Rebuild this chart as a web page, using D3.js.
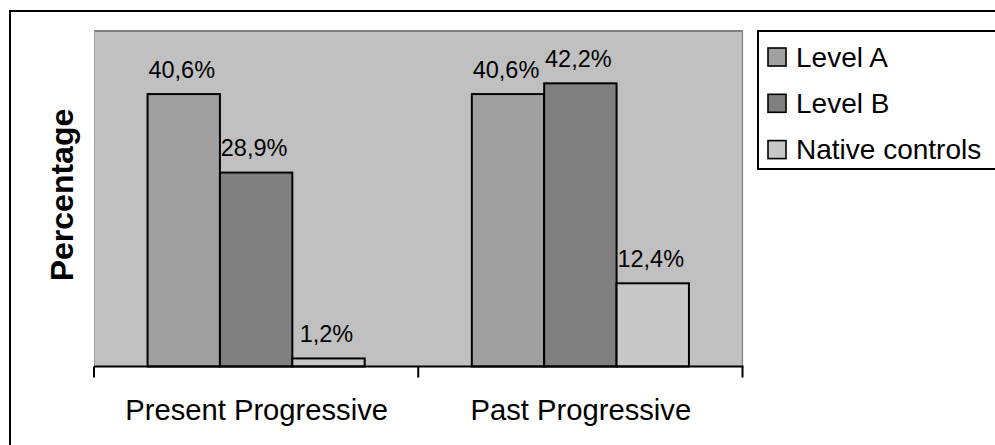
<!DOCTYPE html>
<html>
<head>
<meta charset="utf-8">
<script src="https://cdn.jsdelivr.net/npm/d3@7"></script>
<style>
  html, body { margin: 0; padding: 0; background: #fff; }
  svg { display: block; font-family: "Liberation Sans", Arial, sans-serif; }
</style>
</head>
<body>
<svg id="chart" width="995" height="445"></svg>
<script>
const categories = ["Present Progressive", "Past Progressive"];
const seriesNames = ["Level A", "Level B", "Native controls"];
const levelA = [40.6, 40.6];
const levelB = [28.9, 42.2];
const nativeControls = [1.2, 12.4];
const valueLabels = [["40,6%", "40,6%"], ["28,9%", "42,2%"], ["1,2%", "12,4%"]];
const seriesColors = ["#a0a0a0", "#808080", "#c8c8c8"];
const yAxisTitle = "Percentage";

const seriesValues = [levelA, levelB, nativeControls];
const svg = d3.select("#chart");

const plot = { left: 94, right: 742.5, top: 31, bottom: 366.5 };

// outer chart border
svg.append("rect")
  .attr("x", 10).attr("y", 11)
  .attr("width", 1000).attr("height", 460)
  .attr("fill", "#fff").attr("stroke", "#000").attr("stroke-width", 2);

const x = d3.scaleBand().domain(categories).range([plot.left, plot.right]).padding(0);
const xInner = d3.scaleBand().domain(seriesNames).range([0, x.bandwidth()])
  .paddingInner(0).paddingOuter(0.74);
const y = d3.scaleLinear().domain([0, 50]).range([plot.bottom, plot.top]);

// plot area background
svg.append("rect")
  .attr("x", plot.left).attr("y", plot.top)
  .attr("width", plot.right - plot.left).attr("height", plot.bottom - plot.top)
  .attr("fill", "#c0c0c0");
svg.append("line").attr("x1", plot.left).attr("x2", plot.right + 0.5)
  .attr("y1", plot.top).attr("y2", plot.top)
  .attr("stroke", "#808080").attr("stroke-width", 2);
svg.append("line").attr("x1", plot.right).attr("x2", plot.right)
  .attr("y1", plot.top).attr("y2", plot.bottom)
  .attr("stroke", "#808080").attr("stroke-width", 1.2);
svg.append("line").attr("x1", plot.left + 0.5).attr("x2", plot.left + 0.5)
  .attr("y1", plot.top).attr("y2", plot.bottom)
  .attr("stroke", "#a0a0a0").attr("stroke-width", 1);

// bars
const bars = [];
seriesNames.forEach((s, si) => {
  categories.forEach((c, ci) => {
    bars.push({ s, si, c, ci, v: seriesValues[si][ci], label: valueLabels[si][ci] });
  });
});

svg.append("g").selectAll("rect").data(bars).join("rect")
  .attr("x", d => x(d.c) + xInner(d.s))
  .attr("y", d => y(d.v))
  .attr("width", xInner.bandwidth())
  .attr("height", d => y(0) - y(d.v))
  .attr("fill", d => seriesColors[d.si])
  .attr("stroke", "#000").attr("stroke-width", 2);

svg.append("g").selectAll("text").data(bars).join("text")
  .attr("x", d => x(d.c) + xInner(d.s) + xInner.bandwidth() / 2 - 2)
  .attr("y", d => y(d.v) - 16.5)
  .attr("text-anchor", "middle")
  .attr("font-size", 23.5)
  .attr("fill", "#000")
  .text(d => d.label);

// x axis
const xAxis = d3.axisBottom(x).tickSize(0).tickFormat("");
const gx = svg.append("g").attr("transform", `translate(0,${plot.bottom})`).call(xAxis);
gx.select(".domain").remove();
svg.append("line").attr("x1", plot.left).attr("x2", plot.right + 1)
  .attr("y1", plot.bottom).attr("y2", plot.bottom)
  .attr("stroke", "#000").attr("stroke-width", 2);
const tickXs = categories.map(c => x(c)).concat([x(categories[categories.length - 1]) + x.bandwidth()]);
svg.append("g").selectAll("line").data(tickXs).join("line")
  .attr("x1", d => d).attr("x2", d => d)
  .attr("y1", plot.bottom).attr("y2", plot.bottom + 11)
  .attr("stroke", "#000").attr("stroke-width", 2);
svg.append("g").selectAll("text").data(categories).join("text")
  .attr("x", d => x(d) + x.bandwidth() / 2 + 0.5)
  .attr("y", 420)
  .attr("text-anchor", "middle")
  .attr("font-size", 29.2)
  .attr("fill", "#000")
  .text(d => d);

// y axis title
svg.append("text")
  .attr("transform", `translate(73,195) rotate(-90)`)
  .attr("text-anchor", "middle")
  .attr("font-size", 32)
  .attr("font-weight", "bold")
  .attr("fill", "#000")
  .text(yAxisTitle);

// legend
svg.append("rect")
  .attr("x", 758).attr("y", 31)
  .attr("width", 260).attr("height", 138)
  .attr("fill", "#fff").attr("stroke", "#000").attr("stroke-width", 2);
const lg = svg.append("g").selectAll("g").data(seriesNames).join("g")
  .attr("transform", (d, i) => `translate(768,${48 + i * 46.3})`);
lg.append("rect")
  .attr("width", 18).attr("height", 18)
  .attr("fill", (d, i) => seriesColors[i])
  .attr("stroke", "#000").attr("stroke-width", 1.6);
lg.append("text")
  .attr("x", 28).attr("y", 18.5)
  .attr("font-size", 28)
  .attr("fill", "#000")
  .text(d => d);
</script>
</body>
</html>
